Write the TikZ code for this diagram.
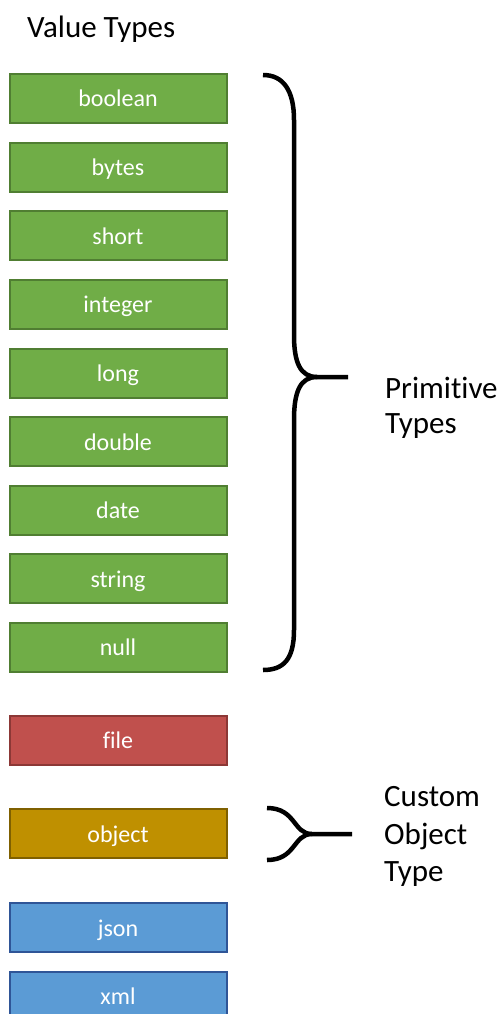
\documentclass[tikz,border=0pt]{standalone}
\usepackage{fontspec}
\setmainfont[Ligatures={NoCommon}]{Carlito}
\definecolor{gfill}{HTML}{70AD47}
\definecolor{gline}{HTML}{507E32}
\definecolor{rfill}{HTML}{C0504D}
\definecolor{rline}{HTML}{8C3836}
\definecolor{ofill}{HTML}{BF9000}
\definecolor{oline}{HTML}{7F6000}
\definecolor{bfill}{HTML}{5B9BD5}
\definecolor{bline}{HTML}{2F5597}
\begin{document}
\begin{tikzpicture}[x=1pt,y=-1pt,
  box/.style={draw, line width=2pt, minimum width=217pt, minimum height=49pt,
    inner sep=0pt, text=white, text height=17pt, text depth=0pt,
    font=\fontsize{24}{28}\selectfont},
  gbox/.style={box, fill=gfill, draw=gline},
  rbox/.style={box, fill=rfill, draw=rline},
  obox/.style={box, fill=ofill, draw=oline},
  bbox/.style={box, fill=bfill, draw=bline},
  lbl/.style={anchor=base west, inner sep=0pt, font=\fontsize{31}{37}\selectfont},
  brace/.style={line width=4.5pt, line cap=butt}]
\useasboundingbox (0,0) rectangle (502,1014);
\clip (0,0) rectangle (502,1014);
\fill[white] (0,0) rectangle (502,1014);
\node[lbl] (title) at (27,38) {Value Types};
\node[gbox] (boolean) at (118,98.5) {boolean};
\node[gbox] (bytes) at (118,167) {bytes};
\node[gbox] (short) at (118,235.5) {short};
\node[gbox] (integer) at (118,304) {integer};
\node[gbox] (long) at (118,373) {long};
\node[gbox] (double) at (118,441.5) {double};
\node[gbox] (date) at (118,510) {date};
\node[gbox] (string) at (118,578.5) {string};
\node[gbox] (null) at (118,647) {null};
\node[rbox] (file) at (118,740) {file};
\node[obox] (object) at (118,833.5) {object};
\node[bbox] (json) at (118,927.5) {json};
\node[bbox] (xml) at (118,996) {xml};
% big brace
\coordinate (bt) at (263,75);
\coordinate (bm) at (317,377);
\coordinate (btip) at (348,377);
\coordinate (bb) at (263,670);
\draw[brace] (bt) .. controls (283,75) and (294,90) .. (294,120) -- (294,335)
  .. controls (294,362) and (300,377) .. (bm) -- (btip);
\draw[brace] (bm) .. controls (300,377) and (294,392) .. (294,420) -- (294,630)
  .. controls (294,660) and (283,670) .. (bb);
\node[lbl] (prim1) at (385,398) {Primitive};
\node[lbl] (prim2) at (385,433.5) {Types};
% small brace
\coordinate (st) at (267,808);
\coordinate (sm) at (312,834);
\coordinate (stip) at (352,834);
\coordinate (sb) at (267,860);
\draw[brace] (st) .. controls (296,808) and (293,834) .. (sm) -- (stip);
\draw[brace] (sm) .. controls (293,834) and (296,860) .. (sb);
\node[lbl] (cust1) at (384,806.5) {Custom};
\node[lbl] (cust2) at (384,844) {Object};
\node[lbl] (cust3) at (384,881.5) {Type};
\end{tikzpicture}
\end{document}
